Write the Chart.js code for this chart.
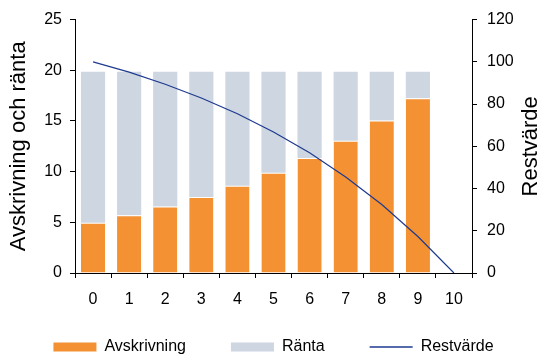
<!DOCTYPE html>
<html>
<head>
<meta charset="utf-8">
<script src="https://cdn.jsdelivr.net/npm/chart.js@4/dist/chart.umd.min.js"></script>
<style>
    html, body { margin: 0; padding: 0; background: #fff; }
    #wrap { width: 545px; height: 358px; }
</style>
</head>
<body>
<div id="wrap"><canvas id="myChart" width="545" height="358"></canvas></div>
<script>
// Data
const years = ["0", "1", "2", "3", "4", "5", "6", "7", "8", "9", "10"];
const avskrivning = [4.95, 5.7, 6.55, 7.5, 8.6, 9.9, 11.35, 13.05, 15.05, 17.25];
const ranta = [14.9, 14.15, 13.3, 12.35, 11.25, 9.95, 8.5, 6.8, 4.8, 2.6];
const restvarde = [100, 95.1, 89.4, 82.9, 75.4, 66.8, 56.9, 45.5, 32.4, 17.3, 0];

const FONT = '"Liberation Sans", Arial, sans-serif';

// Right axis title reads bottom-to-top, Chart.js would rotate it the other way
const rightTitle = {
    id: 'rightTitle',
    afterDraw(chart) {
        const ctx = chart.ctx;
        const area = chart.chartArea;
        ctx.save();
        ctx.translate(531, (area.top + area.bottom) / 2);
        ctx.rotate(-Math.PI / 2);
        ctx.font = '22px ' + FONT;
        ctx.fillStyle = '#000';
        ctx.textAlign = 'center';
        ctx.textBaseline = 'middle';
        ctx.fillText('Restvärde', 0, 0);
        ctx.restore();
    }
};

function legendLabels(chart) {
    const items = Chart.defaults.plugins.legend.labels.generateLabels(chart);
    items.forEach(item => {
        const ds = chart.data.datasets[item.datasetIndex];
        if (ds.type === 'line') {
            item.pointStyle = 'line';
            item.strokeStyle = ds.borderColor;
            item.lineWidth = 1.3;
        } else {
            item.pointStyle = 'rect';
            item.lineWidth = 0;
            item.strokeStyle = ds.backgroundColor;
        }
    });
    return items;
}

const ctx = document.getElementById('myChart').getContext('2d');
const myChart = new Chart(ctx, {
    data: {
        labels: years,
        datasets: [{
            type: 'bar',
            label: 'Avskrivning',
            data: avskrivning,
            backgroundColor: '#F39133',
            borderColor: '#ffffff',
            borderWidth: {top: 1, right: 0, bottom: 0, left: 0},
            borderSkipped: false,
            barPercentage: 0.67,
            categoryPercentage: 1,
            yAxisID: 'y',
            order: 1
        }, {
            type: 'bar',
            label: 'Ränta',
            data: ranta,
            backgroundColor: '#CDD6E1',
            borderWidth: 0,
            barPercentage: 0.67,
            categoryPercentage: 1,
            yAxisID: 'y',
            order: 2
        }, {
            type: 'line',
            label: 'Restvärde',
            data: restvarde,
            borderColor: '#1E3A8F',
            borderWidth: 1.2,
            pointRadius: 0,
            tension: 0,
            fill: false,
            yAxisID: 'y1',
            order: 0
        }]
    },
    options: {
        responsive: false,
        animation: false,
        layout: {
            padding: {top: 4, left: 2, right: 0, bottom: -7}
        },
        scales: {
            x: {
                stacked: true,
                grid: {display: true, drawOnChartArea: false, drawTicks: true, tickLength: 5, color: '#000', offset: true},
                border: {display: true, color: '#000'},
                // mirror + negative padding: labels sit below the short axis box without being clipped
                ticks: {color: '#000', font: {family: FONT, size: 16}, mirror: true, padding: -36, maxRotation: 0, autoSkip: false},
                afterFit: function(scale) { scale.height = 21; }
            },
            y: {
                position: 'left',
                stacked: true,
                min: 0,
                max: 25,
                grid: {display: true, drawOnChartArea: false, drawTicks: true, tickLength: 5, color: '#000'},
                border: {display: true, color: '#000'},
                ticks: {stepSize: 5, color: '#000', font: {family: FONT, size: 16}, padding: 8},
                title: {display: true, text: 'Avskrivning och ränta', color: '#000', font: {family: FONT, size: 22}, padding: {top: 4, bottom: 2}},
                afterFit: function(scale) { scale.width = 73; }
            },
            y1: {
                position: 'right',
                stacked: false,
                min: 0,
                max: 120,
                grid: {display: true, drawOnChartArea: false, drawTicks: true, tickLength: 5, color: '#000'},
                border: {display: true, color: '#000'},
                ticks: {stepSize: 20, color: '#000', font: {family: FONT, size: 16}, padding: 10},
                afterFit: function(scale) { scale.width = 73; }
            }
        },
        plugins: {
            legend: {
                display: true,
                position: 'bottom',
                labels: {
                    usePointStyle: true,
                    pointStyleWidth: 43,
                    boxHeight: 9,
                    padding: 45,
                    color: '#000',
                    font: {family: FONT, size: 16},
                    generateLabels: legendLabels,
                    sort: (a, b) => a.datasetIndex - b.datasetIndex
                }
            },
            tooltip: {enabled: false}
        }
    },
    plugins: [rightTitle]
});
</script>
</body>
</html>
